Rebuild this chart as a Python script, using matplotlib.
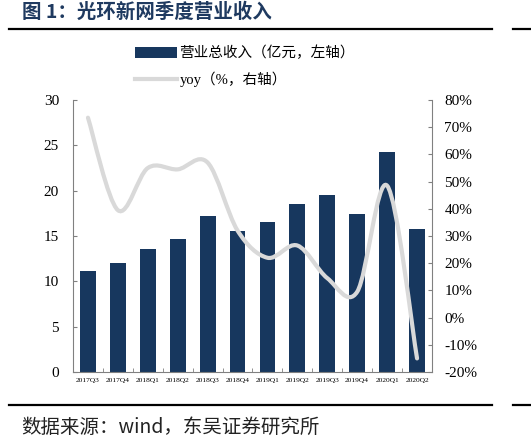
import matplotlib.pyplot as plt
import numpy as np
from matplotlib.path import Path
from matplotlib.patches import PathPatch, Patch
from matplotlib.lines import Line2D

# dados
quarters = ["2017Q3", "2017Q4", "2018Q1", "2018Q2", "2018Q3", "2018Q4",
            "2019Q1", "2019Q2", "2019Q3", "2019Q4", "2020Q1", "2020Q2"]
revenue = [11.1, 12.0, 13.6, 14.7, 17.2, 15.6, 16.5, 18.5, 19.5, 17.4, 24.3, 15.8]
yoy = [73.5, 39.5, 55.0, 54.5, 57.0, 32.0, 22.0, 26.5, 14.5, 9.5, 48.5, -15.0]

left_ticks = [0, 5, 10, 15, 20, 25, 30]
right_ticks = [-20, -10, 0, 10, 20, 30, 40, 50, 60, 70, 80]

cor_barra = "#17375E"
cor_linha = "#D9D9D9"
cor_eixo = "#808080"
serif = "Liberation Serif"
cjk = ["Noto Sans CJK SC", "DejaVu Sans"]
mista = ["Liberation Serif", "Noto Sans CJK SC"]

fig = plt.figure(figsize=(5.31, 4.37), dpi=100)
W, H = 531, 437
ax = fig.add_axes([73 / W, 1 - 372 / H, (432 - 73) / W, 272 / H])

x = np.arange(len(quarters))
ax.bar(x, revenue, width=0.53, color=cor_barra, zorder=2)
ax.set_xlim(-0.5, len(quarters) - 0.5)
ax.set_ylim(0, 30)
ax.set_yticks(left_ticks)
ax.set_yticklabels([str(t) for t in left_ticks], fontfamily=serif, fontsize=11)
ax.set_xticks(x)
ax.set_xticklabels(quarters, fontfamily=serif, fontsize=5.4)
ax.set_xticks(np.arange(-0.5, len(quarters), 1.0), minor=True)
ax.tick_params(axis="x", which="major", length=0, pad=4)
ax.tick_params(axis="x", which="minor", direction="in", length=3, color=cor_eixo)
ax.tick_params(axis="y", direction="in", length=3, color=cor_eixo, pad=10)
for s in ["top", "right"]:
    ax.spines[s].set_visible(False)
for s in ["left", "bottom"]:
    ax.spines[s].set_color(cor_eixo)

# eixo da direita - yoy
ax2 = ax.twinx()
ax2.set_ylim(-20, 80)
ax2.set_yticks(right_ticks)
ax2.set_yticklabels([f"{t}%" for t in right_ticks], fontfamily=serif, fontsize=11)
ax2.tick_params(axis="y", direction="in", length=3, color=cor_eixo, pad=9)
for s in ["top", "left", "bottom"]:
    ax2.spines[s].set_visible(False)
ax2.spines["right"].set_color(cor_eixo)

# linha suavizada (bezier tipo catmull-rom, como no excel)
pts = np.column_stack([x, yoy]).astype(float)
ext = np.vstack([pts[0], pts, pts[-1]])
verts = [tuple(pts[0])]
codes = [Path.MOVETO]
for i in range(len(pts) - 1):
    p0, p1, p2, p3 = ext[i], ext[i + 1], ext[i + 2], ext[i + 3]
    c1 = p1 + (p2 - p0) / 6
    c2 = p2 - (p3 - p1) / 6
    verts += [tuple(c1), tuple(c2), tuple(p2)]
    codes += [Path.CURVE4] * 3
ax2.add_patch(PathPatch(Path(verts, codes), fill=False, edgecolor=cor_linha,
                        lw=3, capstyle="round", zorder=3))

# legenda
handles = [Patch(facecolor=cor_barra, edgecolor="none"),
           Line2D([], [], color=cor_linha, lw=3)]
labels = ["营业总收入（亿元，左轴）", "yoy（%，右轴）"]
fig.legend(handles, labels, loc="upper left", bbox_to_anchor=(135 / W, 1 - 46 / H),
           frameon=False, prop={"family": mista, "size": 10.5}, handlelength=2.9,
           handleheight=0.75, handletextpad=0.15, labelspacing=0.75,
           borderpad=0, borderaxespad=0)

# título e fonte
fig.text(22 / W, 1 - 12 / H, "图 1：光环新网季度营业收入", fontfamily=cjk,
         fontsize=14, fontweight="bold", color="#1F3A60", va="center", ha="left")
fig.text(21 / W, 1 - 427 / H, "数据来源：wind，东吴证券研究所", fontfamily=cjk,
         fontsize=14, color="#222222", va="center", ha="left")

for yy in [29, 405]:
    fig.add_artist(Line2D([9 / W, 492 / W], [1 - yy / H, 1 - yy / H],
                          color="black", lw=1.6, transform=fig.transFigure))
    fig.add_artist(Line2D([513 / W, 1.0], [1 - yy / H, 1 - yy / H],
                          color="black", lw=1.6, transform=fig.transFigure))

fig.savefig("out.png", dpi=100)
